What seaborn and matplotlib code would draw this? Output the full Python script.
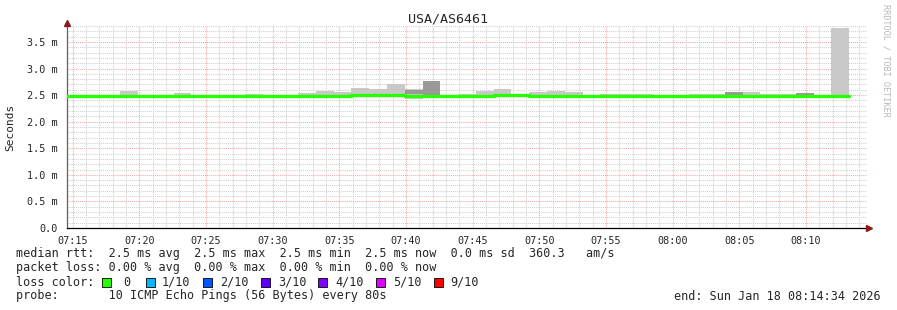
import numpy as np
import pandas as pd
import matplotlib
matplotlib.use("Agg")
import matplotlib.pyplot as plt
from matplotlib.patches import Rectangle
from matplotlib.ticker import MultipleLocator, FixedLocator
import seaborn as sns

# ---------------- data ----------------
title = "USA/AS6461"
step_seconds = 80
start_clock = "07:14:34"
median_ms = [2.49, 2.49, 2.49, 2.49, 2.49, 2.49, 2.49, 2.49, 2.485, 2.475,
             2.48, 2.485, 2.485, 2.49, 2.49, 2.49, 2.51, 2.50, 2.51, 2.48,
             2.49, 2.475, 2.48, 2.49, 2.50, 2.51, 2.49, 2.48, 2.49, 2.49,
             2.48, 2.49, 2.49, 2.478, 2.48, 2.48, 2.48, 2.49, 2.49, 2.49,
             2.49, 2.49, 2.49, 2.49]
smoke_hi_ms = [2.50, 2.50, 2.50, 2.58, 2.50, 2.50, 2.54, 2.50, 2.50, 2.49,
               2.52, 2.51, 2.51, 2.54, 2.58, 2.55, 2.63, 2.62, 2.71, 2.62,
               2.77, 2.49, 2.52, 2.58, 2.62, 2.52, 2.55, 2.57, 2.55, 2.51,
               2.52, 2.52, 2.52, 2.49, 2.49, 2.52, 2.52, 2.55, 2.55, 2.53,
               2.53, 2.54, 2.51, 3.77]
smoke_lo_ms = [2.47, 2.47, 2.47, 2.47, 2.47, 2.47, 2.47, 2.47, 2.47, 2.46,
               2.47, 2.47, 2.47, 2.47, 2.47, 2.47, 2.48, 2.48, 2.48, 2.43,
               2.47, 2.46, 2.47, 2.47, 2.48, 2.48, 2.47, 2.46, 2.47, 2.47,
               2.45, 2.47, 2.47, 2.46, 2.47, 2.47, 2.46, 2.47, 2.47, 2.47,
               2.47, 2.47, 2.47, 2.48]
dark_hi_ms = [2.49, 2.49, 2.49, 2.49, 2.49, 2.49, 2.49, 2.49, 2.485, 2.47,
              2.48, 2.485, 2.485, 2.51, 2.49, 2.49, 2.51, 2.50, 2.51, 2.60,
              2.76, 2.47, 2.48, 2.49, 2.50, 2.51, 2.49, 2.48, 2.49, 2.49,
              2.48, 2.49, 2.49, 2.475, 2.48, 2.48, 2.48, 2.55, 2.49, 2.49,
              2.49, 2.54, 2.49, 2.49]
dark_lo_ms = [2.49, 2.49, 2.49, 2.49, 2.49, 2.49, 2.49, 2.49, 2.485, 2.47,
              2.48, 2.485, 2.485, 2.49, 2.49, 2.49, 2.51, 2.50, 2.51, 2.52,
              2.50, 2.47, 2.48, 2.49, 2.50, 2.51, 2.49, 2.46, 2.49, 2.49,
              2.48, 2.49, 2.49, 2.475, 2.48, 2.48, 2.46, 2.49, 2.49, 2.49,
              2.49, 2.49, 2.49, 2.49]
tick_labels = ["07:15", "07:20", "07:25", "07:30", "07:35", "07:40",
               "07:45", "07:50", "07:55", "08:00", "08:05", "08:10"]
ytick_values = [0.0, 0.5, 1.0, 1.5, 2.0, 2.5, 3.0, 3.5]
loss_labels = ["0", "1/10", "2/10", "3/10", "4/10", "5/10", "9/10"]
loss_colors = ["#26ff00", "#00b8ff", "#0059ff", "#5e00ff", "#7e00ff", "#dd00ff", "#ff0000"]
legend_rows = [
    "median rtt:  2.5 ms avg  2.5 ms max  2.5 ms min  2.5 ms now  0.0 ms sd  360.3   am/s",
    "packet loss: 0.00 % avg  0.00 % max  0.00 % min  0.00 % now",
    "loss color:",
    "probe:       10 ICMP Echo Pings (56 Bytes) every 80s",
]
end_text = "end: Sun Jan 18 08:14:34 2026"
watermark = "RRDTOOL / TOBI OETIKER"

# ---------------- layout ----------------
W, H = 897, 310
sns.set_style("white")
mono = "DejaVu Sans Mono"
plt.rcParams["font.family"] = [mono]

fig = plt.figure(figsize=(W / 100, H / 100), dpi=100)
fig.patch.set_facecolor("white")
ax_l, ax_r, ax_b, ax_t = 67, 867, 228, 26
ax = fig.add_axes([ax_l / W, 1 - ax_b / H, (ax_r - ax_l) / W, (ax_b - ax_t) / H])
ax.set_facecolor("white")

def clock_to_s(s):
    parts = [int(p) for p in s.split(":")]
    while len(parts) < 3:
        parts.append(0)
    return parts[0] * 3600 + parts[1] * 60 + parts[2]

t0 = clock_to_s(start_clock)
n = len(median_ms)
t = np.arange(n + 1) * step_seconds

def ext(a):
    a = list(a)
    return np.array(a + [a[-1]])

# smoke layers
ax.fill_between(t, ext(smoke_lo_ms), ext(smoke_hi_ms), step="post",
                color="#c8c8c8", linewidth=0, zorder=2)
ax.fill_between(t, ext(dark_lo_ms), ext(dark_hi_ms), step="post",
                color="#999999", linewidth=0, zorder=3)

# median line
df = pd.DataFrame({"t": t, "median": ext(median_ms)})
sns.lineplot(data=df, x="t", y="median", ax=ax, color=loss_colors[0],
             linewidth=2.4, drawstyle="steps-post", estimator=None, sort=False,
             zorder=4)

ax.set_xlim(0, 3600)
ax.set_ylim(0, 3.8)

# ticks / grid
xt = [clock_to_s(s) - t0 for s in tick_labels]
ax.xaxis.set_major_locator(FixedLocator(xt))
ax.set_xticklabels(tick_labels)
minor_x = [xt[0] + 60 * k for k in range(-1, 60) if 0 <= xt[0] + 60 * k <= 3600]
ax.xaxis.set_minor_locator(FixedLocator(minor_x))
ax.yaxis.set_major_locator(FixedLocator(ytick_values))
ax.set_yticklabels(["0.0" if v == 0 else f"{v:.1f} m" for v in ytick_values])
ax.yaxis.set_minor_locator(MultipleLocator(0.1))

ax.set_axisbelow(True)
ax.grid(which="minor", color="#cfcfcf", linestyle=(0, (1.0, 1.0)), linewidth=0.75)
ax.grid(which="major", color="#f2a8a8", linestyle=(0, (1.0, 1.0)), linewidth=0.75)

ax.tick_params(axis="both", which="major", length=3, width=0.7, color="#606060",
               labelsize=7.3, pad=3, direction="out")
ax.tick_params(axis="both", which="minor", length=2, width=0.7, color="#808080",
               direction="out")
ax.tick_params(axis="y", which="major", pad=4)

for s in ["top", "right"]:
    ax.spines[s].set_visible(False)
ax.spines["left"].set_color("#606060")
ax.spines["left"].set_linewidth(0.9)
ax.spines["bottom"].set_color("#000000")
ax.spines["bottom"].set_linewidth(0.9)
ax.spines["left"].set_bounds(0, 3.85)
ax.spines["bottom"].set_bounds(0, 3605)

ax.plot([0], [3.86], marker="^", color="#8b1a1a", markersize=4, clip_on=False, zorder=6)
ax.plot([3610], [0], marker=">", color="#8b1a1a", markersize=4, clip_on=False, zorder=6)

ax.set_xlabel("")
ax.set_ylabel("")

def fx(px):
    return px / W

def fy(py):
    return 1 - py / H

fig.text(fx(448), fy(19), title, ha="center", va="center", fontsize=9.6, family=mono)
fig.text(fx(10), fy(127), "Seconds", ha="center", va="center", rotation=90,
         fontsize=8, family=mono)
fig.text(fx(886), fy(4), watermark, ha="center", va="top", rotation=-90,
         fontsize=6.1, color="#b8b8b8", family=mono)

row_y = [254, 268, 282, 296]
for txt, y in zip(legend_rows, row_y):
    fig.text(fx(16), fy(y), txt, ha="left", va="center", fontsize=8.5, family=mono)
fig.text(fx(881), fy(296), end_text, ha="right", va="center", fontsize=8.5, family=mono)

square_x = [102, 146, 203, 261, 318, 376, 434]
label_x = [123, 162, 220, 278, 335, 393, 450]
for sx, lx, lab, col in zip(square_x, label_x, loss_labels, loss_colors):
    fig.add_artist(Rectangle((fx(sx), fy(286.5)), 9 / W, 9 / H, transform=fig.transFigure,
                             facecolor=col, edgecolor="#000000", linewidth=0.6))
    fig.text(fx(lx), fy(282), lab, ha="left", va="center", fontsize=8.5, family=mono)

fig.savefig("out.png", dpi=100, facecolor="white")
